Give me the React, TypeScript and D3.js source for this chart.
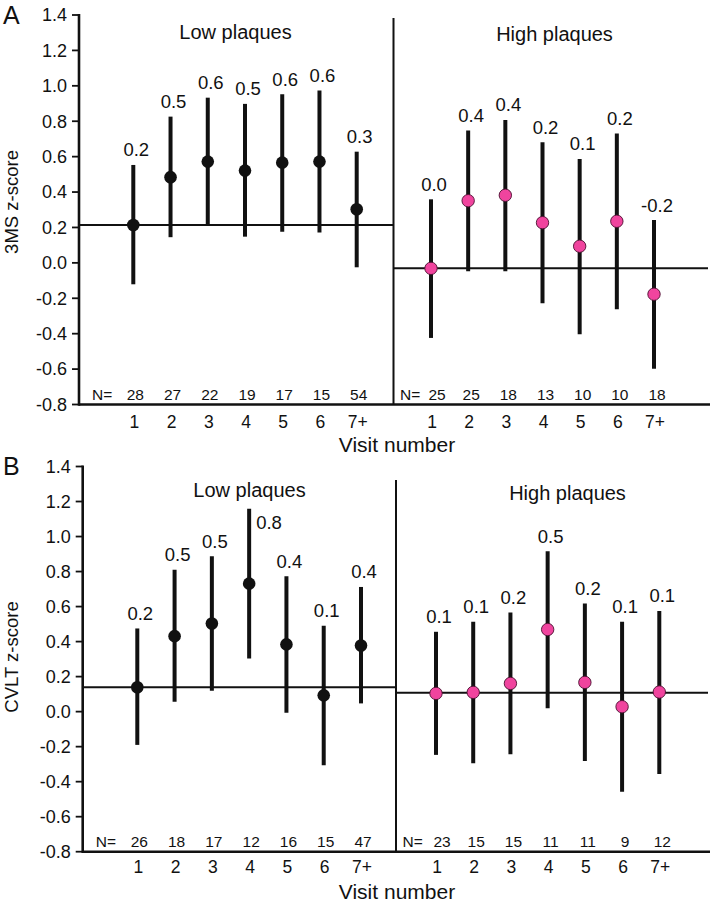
import React from "react";
import * as d3 from "d3";

// ---------- data ----------
const visits = ["1", "2", "3", "4", "5", "6", "7+"];
const yTicks = [1.4, 1.2, 1.0, 0.8, 0.6, 0.4, 0.2, 0.0, -0.2, -0.4, -0.6, -0.8];

// Panel A: 3MS z-score
const aLowMean = [0.214, 0.484, 0.572, 0.521, 0.566, 0.572, 0.303];
const aLowUpper = [0.553, 0.826, 0.933, 0.898, 0.953, 0.973, 0.628];
const aLowLower = [-0.121, 0.145, 0.218, 0.148, 0.176, 0.171, -0.025];
const aLowLabels = ["0.2", "0.5", "0.6", "0.5", "0.6", "0.6", "0.3"];
const aLowN = ["28", "27", "22", "19", "17", "15", "54"];
const aLowRef = 0.214;

const aHighMean = [-0.031, 0.351, 0.382, 0.227, 0.094, 0.235, -0.177];
const aHighUpper = [0.359, 0.747, 0.807, 0.681, 0.587, 0.73, 0.242];
const aHighLower = [-0.424, -0.047, -0.047, -0.228, -0.403, -0.262, -0.598];
const aHighLabels = ["0.0", "0.4", "0.4", "0.2", "0.1", "0.2", "-0.2"];
const aHighN = ["25", "25", "18", "13", "10", "10", "18"];
const aHighRef = -0.031;

// Panel B: CVLT z-score
const bLowMean = [0.139, 0.431, 0.503, 0.731, 0.384, 0.093, 0.378];
const bLowUpper = [0.475, 0.811, 0.887, 1.159, 0.773, 0.49, 0.712];
const bLowLower = [-0.19, 0.056, 0.119, 0.304, -0.006, -0.306, 0.047];
const bLowLabels = ["0.2", "0.5", "0.5", "0.8", "0.4", "0.1", "0.4"];
const bLowLabelSide = ["top", "top", "top", "right", "top", "top", "top"];
const bLowN = ["26", "18", "17", "12", "16", "15", "47"];
const bLowRef = 0.139;

const bHighMean = [0.104, 0.11, 0.161, 0.469, 0.167, 0.028, 0.112];
const bHighUpper = [0.456, 0.513, 0.566, 0.916, 0.617, 0.513, 0.575];
const bHighLower = [-0.247, -0.295, -0.243, 0.019, -0.282, -0.457, -0.356];
const bHighLabels = ["0.1", "0.1", "0.2", "0.5", "0.2", "0.1", "0.1"];
const bHighN = ["23", "15", "15", "11", "11", "9", "12"];
const bHighRef = 0.108;

// ---------- styles ----------
const FONT = "'Liberation Sans', Arial, Helvetica, sans-serif";
const PINK = "#f0449e";
const INK = "#111";

type Group = {
  mean: number[];
  upper: number[];
  lower: number[];
  labels: string[];
  side?: string[];
  n: string[];
  ref: number;
  title: string;
  pink: boolean;
};

type Layout = {
  left: number;
  divider: number;
  right: number;
  top: number;
  bottom: number;
  dividerTop: number;
  lowRange: [number, number];
  highRange: [number, number];
  lowTitleX: number;
  highTitleX: number;
  lowTitleY: number;
  highTitleY: number;
  tickLabelY: number;
  visitY: number;
  yTitleY: number;
  letterY: number;
};

function Group({ g, x, y }: { g: Group; x: d3.ScalePoint<string>; y: d3.ScaleLinear<number, number> }) {
  return (
    <g>
      {visits.map((v, i) => {
        const cx = x(v) as number;
        const top = y(g.upper[i]);
        const side = g.side ? g.side[i] : "top";
        return (
          <g key={v}>
            <line x1={cx} x2={cx} y1={y(g.upper[i])} y2={y(g.lower[i])} stroke={INK} strokeWidth={4} />
            <circle
              cx={cx}
              cy={y(g.mean[i])}
              r={g.pink ? 6.2 : 6.3}
              fill={g.pink ? PINK : INK}
              stroke={g.pink ? "#4a1030" : "none"}
              strokeWidth={0.9}
            />
            {side === "right" ? (
              <text x={cx + 7} y={top + 20} fontSize={18.5} fontFamily={FONT} fill={INK}>
                {g.labels[i]}
              </text>
            ) : (
              <text x={cx + 3} y={top - 8.5} fontSize={18.5} fontFamily={FONT} fill={INK} textAnchor="middle">
                {g.labels[i]}
              </text>
            )}
          </g>
        );
      })}
    </g>
  );
}

function Panel({ letter, yTitle, low, high, L }: { letter: string; yTitle: string; low: Group; high: Group; L: Layout }) {
  const y = d3.scaleLinear().domain([-0.8, 1.4]).range([L.bottom, L.top]);
  const xLow = d3.scalePoint<string>().domain(visits).range(L.lowRange);
  const xHigh = d3.scalePoint<string>().domain(visits).range(L.highRange);

  return (
    <g>
      <text x={3} y={L.letterY} fontSize={25} fontFamily={FONT} fill={INK}>
        {letter}
      </text>
      {/* y title */}
      <text
        transform={`translate(17.5,${L.yTitleY}) rotate(-90)`}
        textAnchor="middle"
        fontSize={18.5}
        fontFamily={FONT}
        fill={INK}
      >
        {yTitle}
      </text>
      {/* y ticks */}
      {yTicks.map((t) => (
        <g key={t}>
          <line x1={L.left - 7} x2={L.left} y1={y(t)} y2={y(t)} stroke={INK} strokeWidth={1.8} />
          <text
            x={L.left - 12}
            y={y(t)}
            dy="0.35em"
            textAnchor="end"
            fontSize={18}
            fontFamily={FONT}
            fill={INK}
          >
            {t.toFixed(1)}
          </text>
        </g>
      ))}
      {/* axes */}
      <line x1={L.left} x2={L.left} y1={L.top - 1} y2={L.bottom + 1.2} stroke={INK} strokeWidth={2.6} />
      <line x1={L.left} x2={L.right} y1={L.bottom} y2={L.bottom} stroke={INK} strokeWidth={2.6} />
      <line x1={L.divider} x2={L.divider} y1={L.dividerTop} y2={L.bottom} stroke={INK} strokeWidth={2} />
      {/* reference lines */}
      <line x1={L.left} x2={L.divider} y1={y(low.ref)} y2={y(low.ref)} stroke={INK} strokeWidth={2} />
      <line x1={L.divider} x2={L.right - 2} y1={y(high.ref)} y2={y(high.ref)} stroke={INK} strokeWidth={2} />
      {/* titles */}
      <text x={L.lowTitleX} y={L.lowTitleY} textAnchor="middle" fontSize={20} fontFamily={FONT} fill={INK}>
        {low.title}
      </text>
      <text x={L.highTitleX} y={L.highTitleY} textAnchor="middle" fontSize={20} fontFamily={FONT} fill={INK}>
        {high.title}
      </text>
      {/* N row */}
      <text x={L.left + 13} y={L.bottom - 5} fontSize={15.5} fontFamily={FONT} fill={INK}>
        N=
      </text>
      <text x={L.divider + 6.5} y={L.bottom - 5} fontSize={15.5} fontFamily={FONT} fill={INK}>
        N=
      </text>
      {visits.map((v, i) => (
        <text key={"nl" + v} x={(xLow(v) as number) + 2} y={L.bottom - 5} textAnchor="middle" fontSize={15.5} fontFamily={FONT} fill={INK}>
          {low.n[i]}
        </text>
      ))}
      {visits.map((v, i) => (
        <text key={"nh" + v} x={(xHigh(v) as number) + (i === 0 ? 6 : 3)} y={L.bottom - 5} textAnchor="middle" fontSize={15.5} fontFamily={FONT} fill={INK}>
          {high.n[i]}
        </text>
      ))}
      {/* x tick labels */}
      {visits.map((v) => (
        <text key={"xl" + v} x={(xLow(v) as number) + 1} y={L.tickLabelY} textAnchor="middle" fontSize={17.5} fontFamily={FONT} fill={INK}>
          {v}
        </text>
      ))}
      {visits.map((v) => (
        <text key={"xh" + v} x={(xHigh(v) as number) + 1} y={L.tickLabelY} textAnchor="middle" fontSize={17.5} fontFamily={FONT} fill={INK}>
          {v}
        </text>
      ))}
      <text x={397} y={L.visitY} textAnchor="middle" fontSize={21} fontFamily={FONT} fill={INK}>
        Visit number
      </text>
      <Group g={low} x={xLow} y={y} />
      <Group g={high} x={xHigh} y={y} />
    </g>
  );
}

const layoutA: Layout = {
  left: 79,
  divider: 393.5,
  right: 710,
  top: 15,
  bottom: 404.5,
  dividerTop: 18,
  lowRange: [133.3, 356.7],
  highRange: [431, 654],
  lowTitleX: 235.5,
  highTitleX: 554.5,
  lowTitleY: 38.5,
  highTitleY: 41,
  tickLabelY: 428,
  visitY: 451.7,
  yTitleY: 202,
  letterY: 23.5,
};

const layoutB: Layout = {
  left: 82.7,
  divider: 396,
  right: 710,
  top: 466.5,
  bottom: 851.7,
  dividerTop: 480,
  lowRange: [137.3, 361],
  highRange: [436, 659.3],
  lowTitleX: 249.5,
  highTitleX: 567.5,
  lowTitleY: 497.3,
  highTitleY: 500,
  tickLabelY: 873,
  visitY: 899,
  yTitleY: 657,
  letterY: 475,
};

export default function App() {
  const aLow: Group = { mean: aLowMean, upper: aLowUpper, lower: aLowLower, labels: aLowLabels, n: aLowN, ref: aLowRef, title: "Low plaques", pink: false };
  const aHigh: Group = { mean: aHighMean, upper: aHighUpper, lower: aHighLower, labels: aHighLabels, n: aHighN, ref: aHighRef, title: "High plaques", pink: true };
  const bLow: Group = { mean: bLowMean, upper: bLowUpper, lower: bLowLower, labels: bLowLabels, side: bLowLabelSide, n: bLowN, ref: bLowRef, title: "Low plaques", pink: false };
  const bHigh: Group = { mean: bHighMean, upper: bHighUpper, lower: bHighLower, labels: bHighLabels, n: bHighN, ref: bHighRef, title: "High plaques", pink: true };
  return (
    <svg
      width={712}
      height={903}
      viewBox="0 0 712 903"
      style={{ position: "absolute", left: 0, top: 0, background: "#fff" }}
    >
      <rect x={0} y={0} width={712} height={903} fill="#fff" />
      <Panel letter="A" yTitle="3MS z-score" low={aLow} high={aHigh} L={layoutA} />
      <Panel letter="B" yTitle="CVLT z-score" low={bLow} high={bHigh} L={layoutB} />
    </svg>
  );
}
